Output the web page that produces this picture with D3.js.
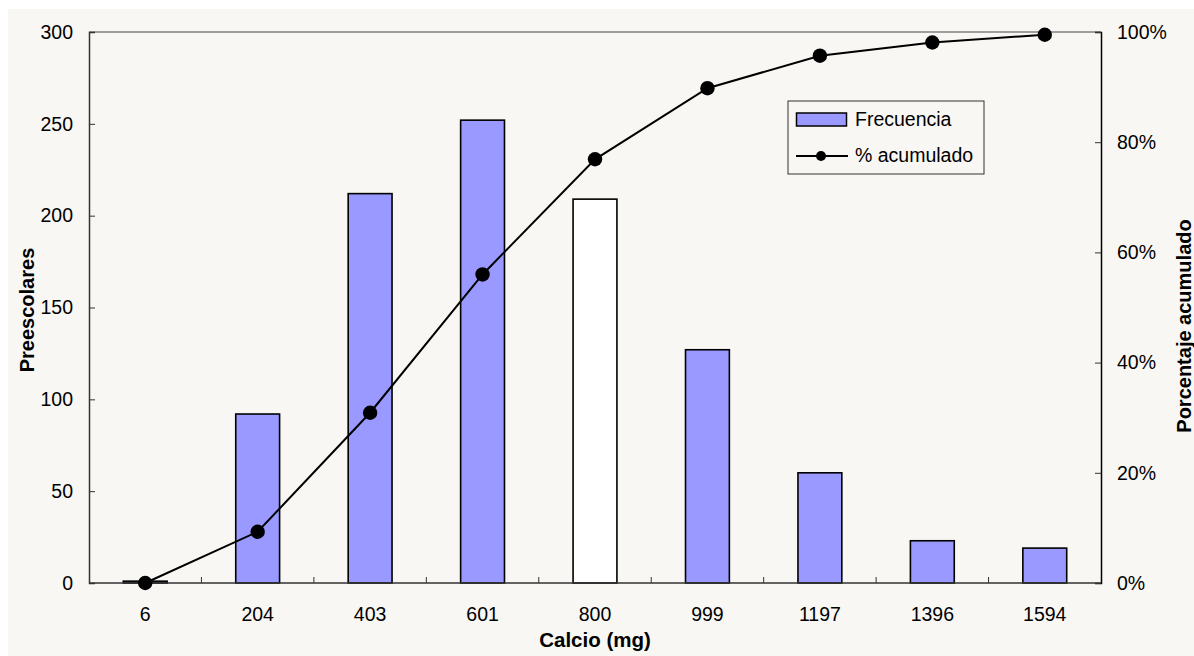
<!DOCTYPE html>
<html>
<head>
<meta charset="utf-8">
<script src="https://cdn.jsdelivr.net/npm/d3@7"></script>
<style>
  html, body { margin: 0; padding: 0; background: #ffffff; }
  svg { display: block; font-family: "Liberation Sans", Arial, sans-serif; }
</style>
</head>
<body>
<svg id="chart" width="1194" height="656"></svg>
<script>
// Calcium intake classes (mg)
const categories = ["6", "204", "403", "601", "800", "999", "1197", "1396", "1594"];
// Number of preschoolers in each class
const frecuencia = [1, 92, 212, 252, 209, 127, 60, 23, 19];
// Cumulative percentage
const acumulado = [0.0, 9.3, 30.9, 56.0, 76.9, 89.8, 95.7, 98.1, 99.5];
// Axis ticks
const leftTicks = [0, 50, 100, 150, 200, 250, 300];
const rightTicks = [0, 20, 40, 60, 80, 100];
// Classes drawn with white fill
const highlighted = ["800"];

const svg = d3.select("#chart");
const W = 1194, H = 656;
const m = { left: 89, right: 1101, top: 32, bottom: 583 };
const bg = "#f8f7f3";
const fs = 19.5;

svg.append("rect").attr("x", 0).attr("y", 0).attr("width", W).attr("height", H).attr("fill", "#ffffff");
svg.append("rect").attr("x", 8).attr("y", 9).attr("width", W - 8).attr("height", H - 9).attr("fill", bg);

const x = d3.scaleBand().domain(categories).range([m.left, m.right]).paddingInner(0).paddingOuter(0);
const y = d3.scaleLinear().domain([0, 300]).range([m.bottom, m.top]);
const y2 = d3.scaleLinear().domain([0, 100]).range([m.bottom, m.top]);

// top frame line
svg.append("line").attr("x1", m.left).attr("x2", m.right).attr("y1", m.top).attr("y2", m.top)
  .attr("stroke", "#808080").attr("stroke-width", 1.5);

// bars
const barW = x.bandwidth() * 0.39;
svg.append("g").selectAll("rect").data(categories).join("rect")
  .attr("x", d => x(d) + x.bandwidth() / 2 - barW / 2)
  .attr("y", (d, i) => y(frecuencia[i]))
  .attr("width", barW)
  .attr("height", (d, i) => y(0) - y(frecuencia[i]))
  .attr("fill", d => highlighted.includes(d) ? "#ffffff" : "#9999ff")
  .attr("stroke", "#000").attr("stroke-width", 1.6);

// left axis
const leftAxis = d3.axisLeft(y).tickValues(leftTicks).tickSize(-6).tickPadding(16);
const gL = svg.append("g").attr("transform", `translate(${m.left},0)`).call(leftAxis);
gL.select(".domain").attr("stroke", "#333").attr("stroke-width", 1.5);
gL.selectAll(".tick line").attr("stroke", "#333");
gL.selectAll("text").attr("font-size", fs).attr("fill", "#000").attr("font-family", "Liberation Sans, Arial, sans-serif");

// right axis
const rightAxis = d3.axisRight(y2).tickValues(rightTicks).tickFormat(d => d + "%").tickSize(-6).tickPadding(16);
const gR = svg.append("g").attr("transform", `translate(${m.right},0)`).call(rightAxis);
gR.select(".domain").attr("stroke", "#000").attr("stroke-width", 1.5);
gR.selectAll(".tick line").attr("stroke", "#333");
gR.selectAll("text").attr("font-size", fs).attr("fill", "#000").attr("font-family", "Liberation Sans, Arial, sans-serif");

// bottom axis: ticks sit between classes
const gB = svg.append("g").attr("transform", `translate(0,${m.bottom})`);
gB.append("line").attr("x1", m.left).attr("x2", m.right).attr("y1", 0).attr("y2", 0)
  .attr("stroke", "#333").attr("stroke-width", 1.5);
gB.selectAll("line.sep").data(categories.slice(1)).join("line").attr("class", "sep")
  .attr("x1", d => x(d)).attr("x2", d => x(d)).attr("y1", 0).attr("y2", -6)
  .attr("stroke", "#333");
gB.selectAll("text").data(categories).join("text")
  .attr("x", d => x(d) + x.bandwidth() / 2).attr("y", 38)
  .attr("text-anchor", "middle").attr("font-size", fs).attr("fill", "#000")
  .text(d => d);

// cumulative line
const line = d3.line().x((d, i) => x(categories[i]) + x.bandwidth() / 2).y(d => y2(d));
svg.append("path").datum(acumulado).attr("d", line)
  .attr("fill", "none").attr("stroke", "#000").attr("stroke-width", 2);
svg.append("g").selectAll("circle").data(acumulado).join("circle")
  .attr("cx", (d, i) => x(categories[i]) + x.bandwidth() / 2)
  .attr("cy", d => y2(d)).attr("r", 7.2).attr("fill", "#000");

// axis titles
svg.append("text").attr("x", 595).attr("y", 647).attr("text-anchor", "middle")
  .attr("font-size", 20.5).attr("font-weight", "bold").text("Calcio (mg)");
svg.append("text").attr("transform", "translate(34,310) rotate(-90)").attr("text-anchor", "middle")
  .attr("font-size", 20).attr("font-weight", "bold").text("Preescolares");
svg.append("text").attr("transform", "translate(1191,326) rotate(-90)").attr("text-anchor", "middle")
  .attr("font-size", 20).attr("font-weight", "bold").text("Porcentaje acumulado");

// legend
const lg = svg.append("g");
lg.append("rect").attr("x", 788).attr("y", 101).attr("width", 196).attr("height", 73)
  .attr("fill", bg).attr("stroke", "#333").attr("stroke-width", 1);
lg.append("rect").attr("x", 796.5).attr("y", 113).attr("width", 50).attr("height", 13)
  .attr("fill", "#9999ff").attr("stroke", "#000").attr("stroke-width", 1.5);
lg.append("text").attr("x", 855).attr("y", 126).attr("font-size", fs).text("Frecuencia");
lg.append("line").attr("x1", 796).attr("x2", 848).attr("y1", 156).attr("y2", 156)
  .attr("stroke", "#000").attr("stroke-width", 2);
lg.append("circle").attr("cx", 821).attr("cy", 156).attr("r", 5).attr("fill", "#000");
lg.append("text").attr("x", 855).attr("y", 162).attr("font-size", fs).text("% acumulado");
</script>
</body>
</html>
